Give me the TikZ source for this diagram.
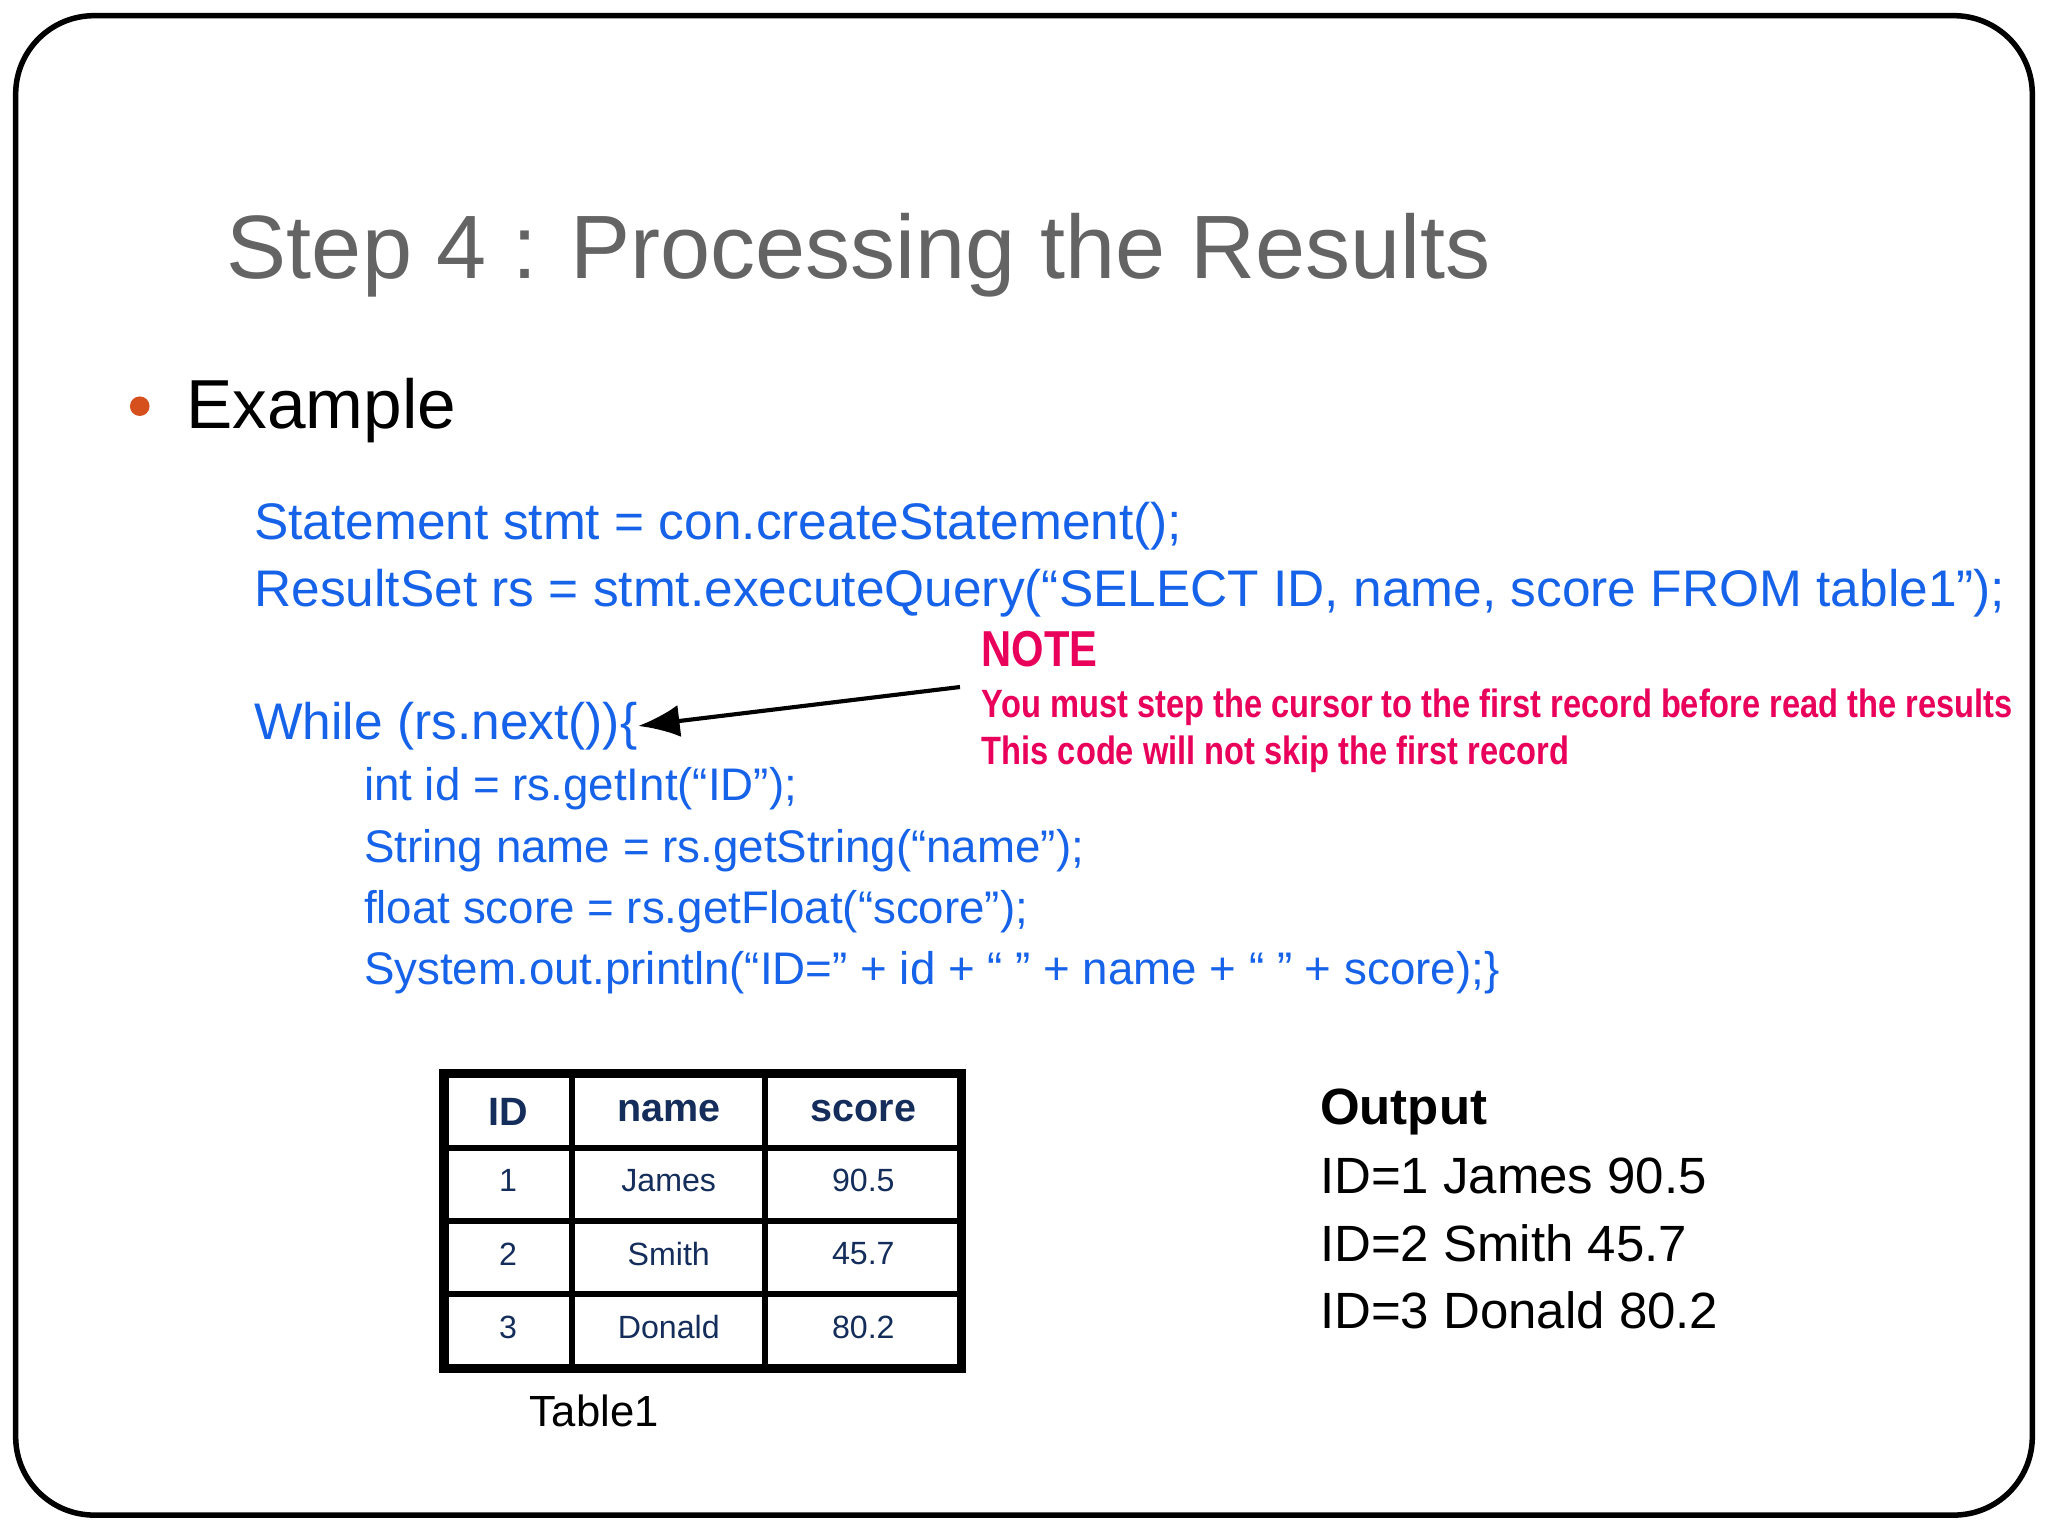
\documentclass[tikz,border=0pt]{standalone}
\usepackage{fontspec}
\usetikzlibrary{arrows.meta}
\setmainfont{Liberation Sans}
\newfontfamily\narrowbf[FakeStretch=0.826]{Liberation Sans Bold}
\definecolor{codeblue}{RGB}{22,98,232}
\definecolor{notered}{RGB}{232,0,90}
\definecolor{titlegray}{RGB}{100,100,100}
\definecolor{navy}{RGB}{20,45,90}
\definecolor{bulletor}{RGB}{214,80,30}
\begin{document}
\begin{tikzpicture}[x=0.01cm,y=-0.01cm,
  tx/.style={anchor=base west,inner sep=0pt},
  code/.style={tx,text=codeblue,font=\fontsize{11.2}{13}\selectfont},
  codein/.style={tx,text=codeblue,font=\fontsize{9.95}{12}\selectfont},
  note/.style={tx,text=notered,font=\narrowbf\fontsize{8.6}{10}\selectfont},
  outp/.style={tx,font=\fontsize{11.1}{13}\selectfont},
  cell/.style={inner sep=0pt,text=navy,font=\fontsize{7}{8}\selectfont},
  hcell/.style={inner sep=0pt,text=navy,font=\bfseries\fontsize{8.6}{10}\selectfont}]
\useasboundingbox (0,0) rectangle (1568,1176);
\draw[line width=1.2pt,rounded corners=0.6cm] (12,12) rectangle (1556,1160);
\node[tx,text=titlegray,font=\fontsize{19.6}{24}\selectfont] (title) at (173,213) {Step 4 : Processing the Results};
\fill[bulletor] (107,311) circle (7.5);
\node[tx,font=\fontsize{15.1}{19}\selectfont] (ex) at (142,328) {Example};
\node[code] (c1) at (194,413) {Statement stmt = con.createStatement();};
\node[code] (c2) at (194,464) {ResultSet rs = stmt.executeQuery(“SELECT ID, name, score FROM table1”);};
\node[code] (c3) at (194,566) {While (rs.next())\{};
\node[codein] (c4) at (278,613) {int id = rs.getInt(“ID”);};
\node[codein] (c5) at (278,660) {String name = rs.getString(“name”);};
\node[codein] (c6) at (278,707) {float score = rs.getFloat(“score”);};
\node[codein] (c7) at (278,754) {System.out.println(“ID=” + id + “ ” + name + “ ” + score);\}};
\node[tx,text=notered,font=\narrowbf\fontsize{11}{13}\selectfont] (n0) at (751,510) {NOTE};
\node[note] (n1) at (751,549) {You must step the cursor to the first record before read the results};
\node[note] (n2) at (751,585) {This code will not skip the first record};
\coordinate (as) at (735,526);
\draw[line width=0.9pt,-{Latex[length=9pt,width=7pt]}] (as) -- (c3.east);
% table
\draw[line width=2pt] (340,822) rectangle (736,1048);
\foreach \x in {438,586} \draw[line width=1.3pt] (\x,822) -- (\x,1048);
\foreach \y in {879,935,991} \draw[line width=1.3pt] (340,\y) -- (736,\y);
\node[hcell] (h1) at (389,851) {ID};
\node[hcell] (h2) at (512,851) {name};
\node[hcell] (h3) at (661,851) {score};
\node[cell] at (389,904) {1};\node[cell] at (512,904) {James};\node[cell] at (661,904) {90.5};
\node[cell] at (389,960) {2};\node[cell] at (512,960) {Smith};\node[cell] at (661,960) {45.7};
\node[cell] at (389,1016) {3};\node[cell] at (512,1016) {Donald};\node[cell] at (661,1016) {80.2};
\node[inner sep=0pt,font=\fontsize{9.5}{11}\selectfont] (tl) at (455,1080) {Table1};
\node[outp,font=\bfseries\fontsize{11.1}{13}\selectfont] (o0) at (1010,861) {Output};
\node[outp] (o1) at (1010,914) {ID=1 James 90.5};
\node[outp] (o2) at (1010,966) {ID=2 Smith 45.7};
\node[outp] (o3) at (1010,1017) {ID=3 Donald 80.2};
\end{tikzpicture}
\end{document}
